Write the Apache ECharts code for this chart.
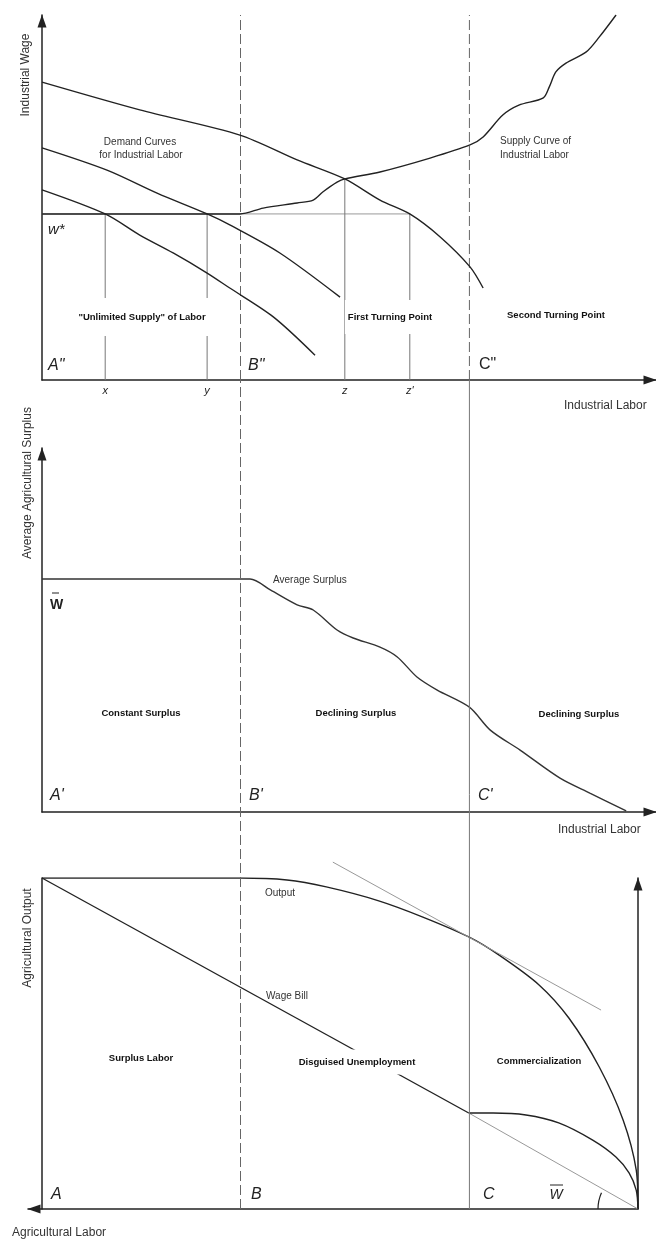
<!DOCTYPE html>
<html>
<head>
<meta charset="utf-8">
<script src="https://cdn.jsdelivr.net/npm/echarts@6/dist/echarts.min.js"></script>
<style>
  html, body { margin: 0; padding: 0; background: #fff; }
  #chart { width: 656px; height: 1240px; }
</style>
</head>
<body>
<div id="chart"></div>
<script>
// labour positions of the turning points (shared by the three panels)
const stageB = 33.3;
const stageC = 71.7;

// top panel: industrial labour market
const wageStar = 45.5;
const dropNames = ['x', 'y', 'z', "z'"];
const dropLabor = [10.6, 27.7, 50.8, 61.7];
const dropWage = [45.5, 45.5, 55.1, 45.5];
const demandHigh = [[0, 81.6], [16.4, 74.0], [33.2, 67.1], [42.8, 60.3], [50.8, 55.1], [56.7, 49.3],
  [61.7, 45.5], [66.8, 39.2], [71.8, 31.0], [74.0, 25.2]];
const demandMid = [[0, 63.6], [10.9, 57.5], [19.3, 51.2], [27.7, 45.5], [31.5, 42.5], [39.9, 34.8], [50.0, 22.7]];
const demandLow = [[0, 52.1], [10.6, 45.5], [16.4, 39.7], [22.0, 34.8], [27.7, 29.3], [31.5, 25.2],
  [38.8, 17.3], [45.8, 6.8]];
const supply = [[0, 45.5], [33.2, 45.5], [37.1, 47.1], [42.8, 48.5], [45.5, 49.3], [47.1, 51.5], [49.5, 54.2],
  [50.8, 55.1], [56.7, 57.0], [65.1, 60.8], [71.8, 64.4], [74.0, 66.6], [77.3, 72.6], [80.0, 75.3],
  [84.1, 77.3], [85.1, 80.3], [86.2, 84.4], [87.9, 86.8], [91.3, 89.9], [93.5, 94.0], [96.3, 100]];

// middle panel: average agricultural surplus
const avgSurplus = [[0, 64.0], [34.9, 64.0], [38.3, 61.0], [42.8, 56.9], [45.5, 55.5], [49.5, 50.0],
  [52.2, 47.8], [56.7, 45.3], [59.6, 42.6], [62.9, 37.1], [66.3, 33.5], [71.7, 28.8], [75.2, 22.5],
  [80.2, 17.0], [86.9, 9.3], [91.9, 5.2], [98.0, 0.3]];

// bottom panel: agricultural output
const output = [[0, 100], [33.4, 100], [41.1, 99.4], [47.7, 97.3], [56.5, 93.1], [63.9, 88.2],
  [71.6, 82.2], [76.7, 76.7], [83.4, 67.7], [88.4, 57.7], [93.5, 42.9], [97.5, 26.9], [99.7, 11.8], [100, 0]];
const wageBill = [[0, 100], [71.6, 29.0]];
const wageBillRest = [[71.6, 29.0], [100, 0]];
const commercialWage = [[71.6, 29.0], [75.7, 29.0], [81.2, 28.4], [86.7, 26.0], [92.4, 20.8],
  [96.3, 15.7], [98.5, 10.9], [99.7, 5.7], [100, 0]];
const tangentAtC = [[48.8, 104.8], [93.8, 60.1]];

const FONT = '"Liberation Sans", Arial, sans-serif';
const INK = '#222';

const chart = echarts.init(document.getElementById('chart'));

function axis(gridIndex, min, max, extra) {
  return Object.assign({
    gridIndex, type: 'value', min, max,
    axisTick: { show: false },
    axisLabel: { show: false },
    splitLine: { show: false },
    axisLine: { show: true, lineStyle: { color: INK, width: 1.5 } }
  }, extra || {});
}
const arrowEnd = { show: true, symbol: ['none', 'triangle'], symbolSize: [9, 13], symbolOffset: [0, -6], lineStyle: { color: INK, width: 1.5 } };

function line(xi, data, style, extra) {
  return Object.assign({
    type: 'line', xAxisIndex: xi, yAxisIndex: xi === 2 ? 2 : (xi === 3 ? 4 : xi),
    data, showSymbol: false, symbol: 'none', silent: true,
    lineStyle: Object.assign({ color: INK, width: 1.4 }, style)
  }, extra || {});
}

const bDash = { color: '#666', width: 1, type: [10, 4] };

const series = [
  // top panel guides
  line(0, [[stageB, 0], [stageB, 100]], bDash),
  line(0, [[stageC, 0], [stageC, 100]], bDash),
  line(0, [[0, wageStar], [dropLabor[3], wageStar]], { color: '#999', width: 1 }),
  ...dropLabor.map((v, i) => line(0, [[v, 0], [v, dropWage[i]]], { color: '#777', width: 1 })),
  line(0, demandHigh, {}, { smooth: 0.3 }),
  line(0, demandMid, {}, { smooth: 0.3 }),
  line(0, demandLow, {}, { smooth: 0.3 }),
  line(0, supply, {}, { smooth: 0.3 }),
  // middle panel
  line(1, avgSurplus, { color: '#333' }, { smooth: 0.3 }),
  // bottom panel
  line(2, output, {}, { smooth: 0.3 }),
  line(2, wageBill, {}),
  line(2, wageBillRest, { color: '#999', width: 1 }),
  line(2, commercialWage, {}, { smooth: 0.3 }),
  line(2, tangentAtC, { color: '#999', width: 1 }, { clip: false }),
  // guides through the lower two panels
  line(3, [[stageB, 0], [stageB, 1]], bDash),
  line(3, [[stageC, 0], [stageC, 1]], { color: '#777', width: 1 })
];

function label(text, x, y, style, extra) {
  return Object.assign({
    type: 'text', x, y, z: 100, silent: true,
    style: Object.assign({ text, font: '10px ' + FONT, fill: '#333', align: 'left', verticalAlign: 'middle' }, style)
  }, extra || {});
}
const bold = (t, x, y, pad) => label(t, x, y, {
  font: 'bold 9.5px ' + FONT, fill: '#111', align: 'center',
  backgroundColor: '#fff', padding: pad || [2, 3]
});
const letter = (t, x, y, upright) => label(t, x, y, { font: (upright ? '' : 'italic ') + '16px ' + FONT, fill: INK });
const small = (t, x, y) => label(t, x, y, { font: 'italic 11px ' + FONT, fill: INK, align: 'center' });
const axisTitle = (t, x, y, rotated) => label(t, x, y, { font: '12px ' + FONT, fill: '#333', align: rotated ? 'center' : 'left' },
  rotated ? { rotation: Math.PI / 2 } : {});

const graphic = [
  axisTitle('Industrial Wage', 26, 75, true),
  label('Demand Curves', 140, 142, { align: 'center' }),
  label('for Industrial Labor', 141, 155, { align: 'center' }),
  label('Supply Curve of', 500, 141),
  label('Industrial Labor', 500, 155),
  label('w*', 48, 230, { font: 'italic 15px ' + FONT, fill: INK }),
  bold('"Unlimited Supply" of Labor', 142, 317, [13, 3, 15, 3]),
  bold('First Turning Point', 390, 317, [13, 3, 11, 3]),
  bold('Second Turning Point', 556, 315),
  letter('A"', 48, 366), letter('B"', 248, 366), letter('C"', 479, 365, true),
  ...dropNames.map((n, i) => small(n, 42 + dropLabor[i] * 5.96, 391)),
  axisTitle('Industrial Labor', 564, 406),

  axisTitle('Average Agricultural Surplus', 28, 483, true),
  label('W', 50, 605, { font: 'bold 14px ' + FONT, fill: INK }),
  label('Average Surplus', 273, 580),
  bold('Constant Surplus', 141, 713),
  bold('Declining Surplus', 356, 713),
  bold('Declining Surplus', 579, 714),
  letter("A'", 50, 796), letter("B'", 249, 796), letter("C'", 478, 796),
  axisTitle('Industrial Labor', 558, 830),

  axisTitle('Agricultural Output', 28, 938, true),
  label('Output', 265, 893),
  label('Wage Bill', 266, 996),
  bold('Surplus Labor', 141, 1058),
  bold('Disguised Unemployment', 357, 1062, [10, 3, 5, 3]),
  bold('Commercialization', 539, 1061),
  letter('A', 51, 1195), letter('B', 251, 1195), letter('C', 483, 1195),
  label('W', 556, 1195, { font: 'italic 14px ' + FONT, fill: INK, align: 'center' }),
  axisTitle('Agricultural Labor', 12, 1233)
];

chart.setOption({
  animation: false,
  backgroundColor: '#fff',
  grid: [
    { left: 42, right: 0, top: 15, height: 365 },
    { left: 42, right: 0, top: 448, height: 364 },
    { left: 28, right: 18, top: 878, height: 331 },
    { left: 42, right: 0, top: 380, height: 829 }
  ],
  xAxis: [
    axis(0, 0, 103, { axisLine: arrowEnd }),
    axis(1, 0, 103, { axisLine: arrowEnd }),
    axis(2, -2.35, 100, { axisLine: { show: true, symbol: ['triangle', 'none'], symbolSize: [9, 13], symbolOffset: [6, 0], lineStyle: { color: INK, width: 1.5 } } }),
    axis(3, 0, 103, { show: false })
  ],
  yAxis: [
    axis(0, 0, 100, { axisLine: arrowEnd }),
    axis(1, 0, 100, { axisLine: arrowEnd }),
    axis(2, 0, 100, { axisLine: { show: true, onZero: true, lineStyle: { color: INK, width: 1.5 } } }),
    axis(2, 0, 100, { position: 'right', axisLine: Object.assign({}, arrowEnd, { onZero: false }) }),
    axis(3, 0, 1, { show: false })
  ],
  series,
  graphic
});

// overlines for the W-bar labels and the angle mark at the bottom-right corner
const corner = chart.convertToPixel({ xAxisIndex: 2, yAxisIndex: 2 }, [100, 0]);
chart.setOption({
  graphic: graphic.concat([
    { type: 'line', z: 100, silent: true, shape: { x1: 52, y1: 593, x2: 59, y2: 593 }, style: { stroke: INK, lineWidth: 1 } },
    { type: 'line', z: 100, silent: true, shape: { x1: 550, y1: 1185, x2: 563, y2: 1185 }, style: { stroke: INK, lineWidth: 1 } },
    { type: 'arc', z: 100, silent: true, shape: { cx: corner[0], cy: corner[1], r: 40, startAngle: Math.PI, endAngle: Math.PI + 0.42, clockwise: true },
      style: { stroke: INK, lineWidth: 1.2, fill: null } }
  ])
});
</script>
</body>
</html>
